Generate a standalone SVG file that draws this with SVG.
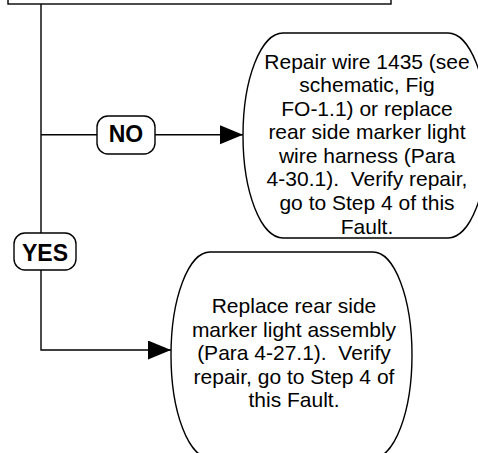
<svg xmlns="http://www.w3.org/2000/svg" width="478" height="453" viewBox="0 0 478 453">
<style>
.ln{fill:none;stroke:#000;stroke-width:1.4}
.nd{fill:#fff;stroke:#000;stroke-width:1.4}
.tx{font-family:"Liberation Sans",Arial,sans-serif;font-size:21px;fill:#000;text-anchor:middle;white-space:pre}
.lb{font-family:"Liberation Sans",Arial,sans-serif;font-size:23px;font-weight:bold;fill:#000;text-anchor:middle}
</style>
<defs>
<marker id="arr" markerUnits="userSpaceOnUse" markerWidth="24" markerHeight="20" refX="23" refY="9.5" orient="auto">
<path d="M0,0 L23,9.5 L0,19 Z" fill="#000"/>
</marker>
</defs>
<rect width="478" height="453" fill="#fff"/>
<g id="top-box">
<rect class="nd" x="8" y="-20" width="383" height="24"/>
</g>
<g id="connectors">
<path class="ln" d="M41,4 L41,350 L171,350" marker-end="url(#arr)"/>
<path class="ln" d="M41,134.7 L243,134.7" marker-end="url(#arr)"/>
</g>
<g id="label-no">
<rect class="nd" x="97" y="116" width="58" height="38" rx="11" ry="11"/>
<text class="lb" x="126" y="142">NO</text>
</g>
<g id="label-yes">
<rect class="nd" x="14" y="233" width="62" height="37" rx="11" ry="11"/>
<text class="lb" x="45" y="261">YES</text>
</g>
<g id="node-repair-wire">
<path class="nd" d="M283,33 L448,33 A40,102.5 0 0 1 488,135.5 A40,102.5 0 0 1 448,238 L283,238 A40,102.5 0 0 1 243,135.5 A40,102.5 0 0 1 283,33 Z"/>
<text class="tx" x="367" y="68.5">Repair wire 1435 (see</text>
<text class="tx" x="367" y="92">schematic, Fig</text>
<text class="tx" x="367" y="115.6">FO-1.1) or replace</text>
<text class="tx" x="367" y="139.2">rear side marker light</text>
<text class="tx" x="367" y="162.8">wire harness (Para</text>
<text class="tx" x="367" y="186.4" xml:space="preserve">4-30.1).  Verify repair,</text>
<text class="tx" x="367" y="210">go to Step 4 of this</text>
<text class="tx" x="367" y="233.5">Fault.</text>
</g>
<g id="node-replace-light">
<path class="nd" d="M210,252 L373,252 A39,103 0 0 1 412,355 A39,103 0 0 1 373,458 L210,458 A39,103 0 0 1 171,355 A39,103 0 0 1 210,252 Z"/>
<text class="tx" x="294" y="313">Replace rear side</text>
<text class="tx" x="294" y="336.5">marker light assembly</text>
<text class="tx" x="294" y="360" xml:space="preserve">(Para 4-27.1).  Verify</text>
<text class="tx" x="294" y="383.5">repair, go to Step 4 of</text>
<text class="tx" x="294" y="407">this Fault.</text>
</g>
</svg>
